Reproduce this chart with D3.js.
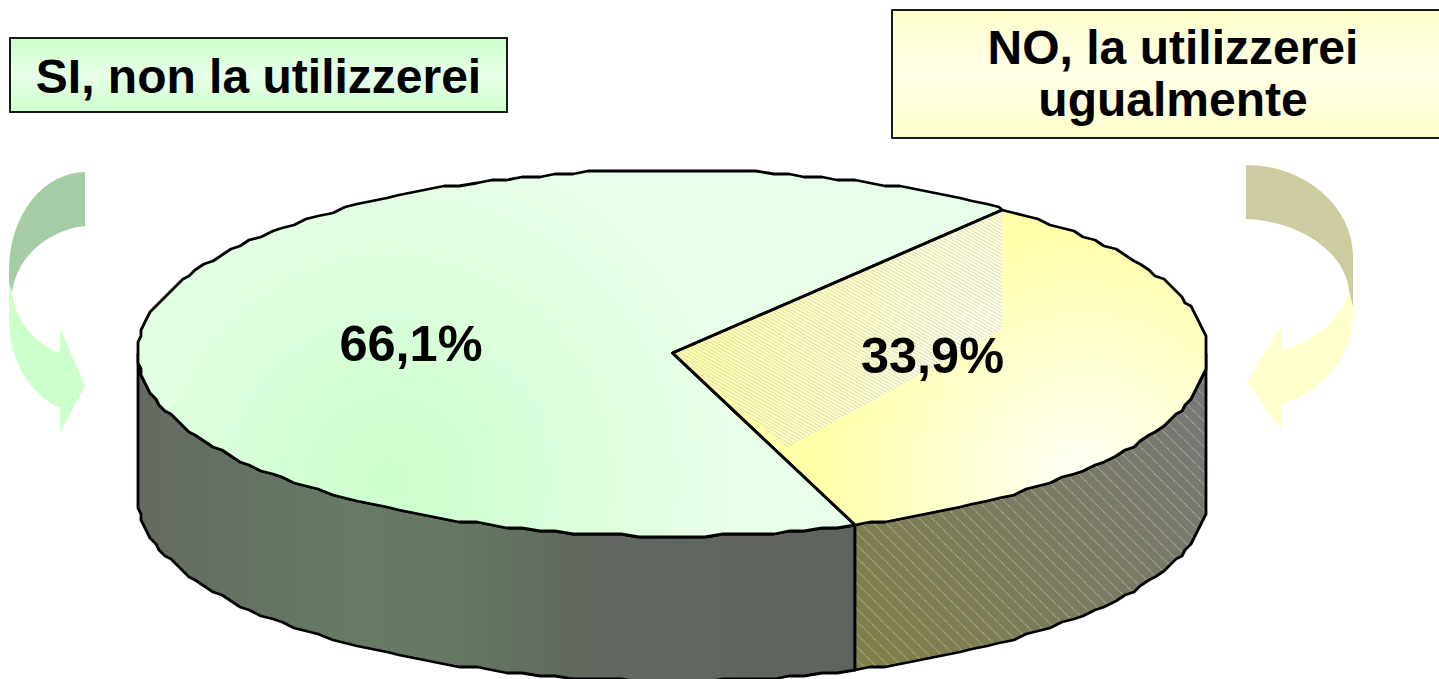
<!DOCTYPE html>
<html>
<head>
<meta charset="utf-8">
<script src="https://cdn.jsdelivr.net/npm/d3@7"></script>
<style>
    html, body { margin: 0; padding: 0; background: #fff; overflow: hidden; }
    text { font-family: "Liberation Sans", Arial, sans-serif; font-weight: bold; fill: #000; }
</style>
</head>
<body>
<svg id="chart" width="1439" height="679"></svg>
<script>
const CATEGORIES = ['SI, non la utilizzerei', 'NO, la utilizzerei ugualmente'];
const VALUES = [66.1, 33.9];
const VALUE_LABELS = ['66,1%', '33,9%'];

const START_ANGLE = 160;

function deg2rad(deg) {
    return deg * Math.PI / 180;
}

function drawChart() {
    const svg = d3.select('#chart');
    const config = getConfig();

    addDefs(svg);
    drawArrows(svg);
    drawBoxes(svg);
    drawWalls(svg, config);
    drawTop(svg, config);
    drawValueLabels(svg);
}

// --- geometry
function getConfig() {
    const center = { x: 672.5, y: 353 };
    const rx = 534.5;
    const ry = 183;
    const depth = 145;

    // pie angles run clockwise from the top of the ellipse
    const pie = d3.pie()
        .sort(null)
        .startAngle(deg2rad(START_ANGLE))
        .endAngle(deg2rad(START_ANGLE + 360));

    const slices = pie(VALUES);

    // the source outline is a coarse polyline, so snap the points to a grid
    const snap = (v, step) => Math.round(v / step) * step;
    const point = (a, dy = 0) => [
        snap(center.x + rx * Math.sin(a), 3),
        snap(center.y - ry * Math.cos(a), 3) + dy
    ];
    // samples sit on a fixed angle grid so that neighbouring paths share points
    const step = deg2rad(1.8);
    const rim = (a0, a1, dy) => {
        const lo = Math.min(a0, a1);
        const hi = Math.max(a0, a1);
        const inner = d3.range(Math.ceil(lo / step), Math.floor(hi / step) + 1).map(i => i * step);
        const angles = [lo, ...inner, hi];
        if (a0 > a1) angles.reverse();
        return angles.map(a => point(a, dy));
    };

    return { center, rx, ry, depth, slices, point, rim };
}

function addDefs(svg) {
    const defs = svg.append('defs');

    const linear = (id, stops, x1, y1, x2, y2) => {
        const g = defs.append('linearGradient')
            .attr('id', id)
            .attr('gradientUnits', 'userSpaceOnUse')
            .attr('x1', x1).attr('y1', y1)
            .attr('x2', x2).attr('y2', y2);
        stops.forEach(s => g.append('stop')
            .attr('offset', s[0])
            .attr('stop-color', s[1])
            .attr('stop-opacity', s[2] === undefined ? 1 : s[2]));
    };
    const radial = (id, stops, cx, cy, r) => {
        const g = defs.append('radialGradient')
            .attr('id', id)
            .attr('gradientUnits', 'userSpaceOnUse')
            .attr('cx', cx).attr('cy', cy).attr('r', r);
        stops.forEach(s => g.append('stop').attr('offset', s[0]).attr('stop-color', s[1]));
    };

    linear('boxGreen', [[0, '#ccffcc'], [0.5, '#e8ffe8'], [1, '#ccffcc']], 0, 38, 0, 112);
    linear('boxYellow', [[0, '#ffffcc'], [0.5, '#ffffe8'], [1, '#ffffcc']], 0, 10, 0, 138);

    radial('topGreen', [[0, '#ccffcc'], [1, '#e8ffe8']], 390, 480, 340);
    radial('topYellow', [[0, '#fffffa'], [1, '#ffffa8']], 1085, 490, 270);
    linear('hatchFade', [[0, '#fff', 0], [1, '#fff', 0.6]], 700, 0, 960, 0);

    linear('wallGreen', [[0, '#646b60'], [0.3, '#667a65'], [0.45, '#647862'], [0.6, '#62695f'], [1, '#5e655f']], 138, 0, 857, 0);
    linear('wallYellow', [[0, '#807f48'], [1, '#777777']], 857, 660, 1207, 400);

    defs.append('pattern')
        .attr('id', 'hatchTop')
        .attr('patternUnits', 'userSpaceOnUse')
        .attr('width', 3)
        .attr('height', 3)
        .attr('patternTransform', 'rotate(30)')
        .append('line')
        .attr('x1', 0).attr('y1', 1.5)
        .attr('x2', 3).attr('y2', 1.5)
        .attr('stroke', '#c8c8b8')
        .attr('stroke-width', 0.6);

    defs.append('pattern')
        .attr('id', 'hatchWall')
        .attr('patternUnits', 'userSpaceOnUse')
        .attr('width', 9)
        .attr('height', 9)
        .attr('patternTransform', 'rotate(45)')
        .append('line')
        .attr('x1', 0).attr('y1', 4.5)
        .attr('x2', 9).attr('y2', 4.5)
        .attr('stroke', '#c8c8b8')
        .attr('stroke-width', 0.7)
        .attr('stroke-dasharray', '1.5 1');
}

// --- draw functions
function drawArrows(svg) {
    const arrows = [
        {
            lower: 'M9,280 L9,320 A76,93 0 0 0 60,408 L60,433 L85,386 L60,328 L60,353 A72,72 0 0 1 12,292 Z',
            upper: 'M85,172 A76,98 0 0 0 9,270 L9,282 L12,292 A84,76 0 0 1 85,226 Z',
            lowerFill: '#ccffcc',
            upperFill: '#a6cca6'
        },
        {
            lower: 'M1353,290 L1353,310 A107,96 0 0 1 1282,404 L1282,431 L1247,382 L1282,324 L1282,350 A96,80 0 0 0 1349,290 Z',
            upper: 'M1246,165 A107,92 0 0 1 1353,257 L1353,307 L1349,290 A110,78 0 0 0 1246,219 Z',
            lowerFill: '#ffffcc',
            upperFill: '#cccca0'
        }
    ];

    const group = svg.append('g').attr('class', 'arrows');

    group.selectAll('.lower')
        .data(arrows)
        .enter()
        .append('path')
        .attr('class', 'lower')
        .attr('fill', d => d.lowerFill)
        .attr('d', d => d.lower);

    group.selectAll('.upper')
        .data(arrows)
        .enter()
        .append('path')
        .attr('class', 'upper')
        .attr('fill', d => d.upperFill)
        .attr('d', d => d.upper);
}

function drawBoxes(svg) {
    const boxes = [
        { x: 10, y: 38, w: 497, h: 74, fill: 'url(#boxGreen)', lines: [CATEGORIES[0]], cx: 258.5, y0: 93 },
        { x: 892, y: 10, w: 560, h: 128, fill: 'url(#boxYellow)', lines: ['NO, la utilizzerei', 'ugualmente'], cx: 1173, y0: 64 }
    ];

    const group = svg.append('g').attr('class', 'boxes');

    boxes.forEach(box => {
        group.append('rect')
            .attr('x', box.x)
            .attr('y', box.y)
            .attr('width', box.w)
            .attr('height', box.h)
            .attr('fill', box.fill)
            .attr('stroke', '#000')
            .attr('stroke-width', 1.8);

        group.selectAll(null)
            .data(box.lines)
            .enter()
            .append('text')
            .attr('x', box.cx)
            .attr('y', (d, i) => box.y0 + i * 52)
            .attr('text-anchor', 'middle')
            .attr('font-size', 48)
            .text(d => d);
    });
}

function drawWalls(svg, config) {
    const { rim, depth } = config;
    const line = d3.line();
    const group = svg.append('g').attr('class', 'walls');

    // only the front half of the cylinder is visible: 90deg to 270deg
    const front = [
        { a0: deg2rad(START_ANGLE), a1: deg2rad(270), fill: ['url(#wallGreen)'] },
        { a0: deg2rad(90), a1: deg2rad(START_ANGLE), fill: ['url(#wallYellow)', 'url(#hatchWall)'] }
    ];

    front.forEach(f => {
        const points = [...rim(f.a0, f.a1, 0), ...rim(f.a1, f.a0, depth)];
        f.fill.forEach(fill => {
            group.append('path')
                .attr('fill', fill)
                .attr('d', line(points) + 'Z');
        });
        group.append('path')
            .attr('fill', 'none')
            .attr('stroke', '#000')
            .attr('stroke-width', 2.8)
            .attr('stroke-linejoin', 'round')
            .attr('d', line(points) + 'Z');
    });
}

function drawTop(svg, config) {
    const { center, slices, rim, rx, ry } = config;
    const line = d3.line();
    const apex = [center.x, center.y];
    const fills = ['url(#topGreen)', 'url(#topYellow)'];

    const group = svg.append('g').attr('class', 'top');

    group.selectAll('.slice')
        .data(slices)
        .enter()
        .append('path')
        .attr('class', 'slice')
        .attr('fill', (d, i) => fills[i])
        .attr('d', d => line([apex, ...rim(d.startAngle, d.endAngle, 0)]) + 'Z');

    // hatched part of the yellow slice
    const hatch = [
        apex,
        [center.x + rx * 0.617, center.y - ry * 0.79],
        [center.x + rx * 0.617, center.y - ry * 0.13],
        [center.x + rx * 0.214, center.y + ry * 0.52]
    ];
    ['url(#hatchFade)', 'url(#hatchTop)'].forEach(fill => {
        group.append('path')
            .attr('fill', fill)
            .attr('d', line(hatch) + 'Z');
    });

    group.selectAll('.outline')
        .data(slices)
        .enter()
        .append('path')
        .attr('class', 'outline')
        .attr('fill', 'none')
        .attr('stroke', '#000')
        .attr('stroke-width', 2.8)
        .attr('stroke-linejoin', 'round')
        .attr('d', d => line([apex, ...rim(d.startAngle, d.endAngle, 0)]) + 'Z');
}

function drawValueLabels(svg) {
    const anchors = [[411, 361], [932.5, 373]];

    svg.append('g')
        .attr('class', 'valueLabels')
        .selectAll('text')
        .data(VALUE_LABELS)
        .enter()
        .append('text')
        .attr('x', (d, i) => anchors[i][0])
        .attr('y', (d, i) => anchors[i][1])
        .attr('text-anchor', 'middle')
        .attr('font-size', 50.5)
        .text(d => d);
}

drawChart();
</script>
</body>
</html>
